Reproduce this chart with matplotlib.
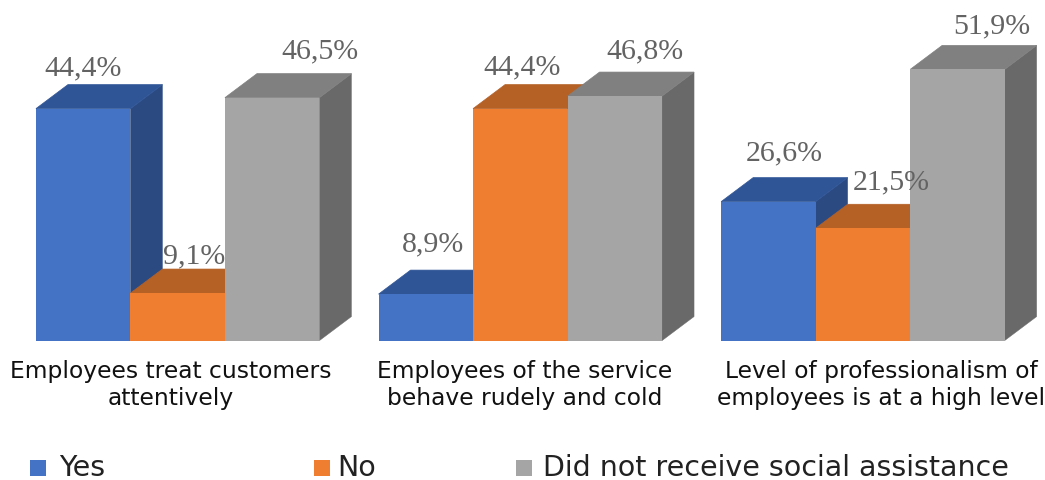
import matplotlib
matplotlib.use('Agg')
import matplotlib.pyplot as plt
from matplotlib.patches import Rectangle

categories = ['Employees treat customers\nattentively',
              'Employees of the service\nbehave rudely and cold',
              'Level of professionalism of\nemployees is at a high level']
series = ['Yes', 'No', 'Did not receive social assistance']
yes = [44.4, 8.9, 26.6]
no = [9.1, 44.4, 21.5]
other = [46.5, 46.8, 51.9]
labels_yes = ['44,4%', '8,9%', '26,6%']
labels_no = ['9,1%', '44,4%', '21,5%']
labels_other = ['46,5%', '46,8%', '51,9%']

front = ['#4472C4', '#EF7E31', '#A5A5A5']
top = ['#2F5597', '#B56024', '#808080']
side = ['#2B4A82', '#A4541E', '#696969']

# label offsets from the bar's top centre, in pixels
off_yes = [(0, 41), (7, 51), (16, 49)]
off_no = [(16, 38), (2, 42), (28, 47)]
off_other = [(48, 47), (30, 46), (34, 44)]

W, H = 1045, 481
base = 341.6
step = 342.6
ppv = 5.225
center0 = 177.7

fig = plt.figure(figsize=(W / 100, H / 100), dpi=100)
ax = fig.add_axes([0, 0, 1, 1])
ax.set_xlim(-center0 / step, (W - center0) / step)
ax.set_ylim(-(H - base) / ppv, base / ppv)
ax.axis('off')

bw = 94.5 / step
dx = 32 / step
dy = 24 / ppv


def px(x):
    return (x - center0) / step


def py(y):
    return (base - y) / ppv


rows = zip([yes, no, other], [labels_yes, labels_no, labels_other], [off_yes, off_no, off_other])
for s, (vals, labs, offs) in enumerate(rows):
    for i, v in enumerate(vals):
        x0 = i + (s - 1.5) * bw
        # side and top first, front last so the seam does not show
        ax.fill([x0 + bw, x0 + bw + dx, x0 + bw + dx, x0 + bw],
                [0, dy, v + dy, v], fc=side[s], ec=side[s], lw=0.3, zorder=2 + s)
        ax.fill([x0, x0 + bw, x0 + bw + dx, x0 + dx],
                [v, v, v + dy, v + dy], fc=top[s], ec=top[s], lw=0.5, zorder=2 + s)
        ax.bar(x0, v, bw, align='edge', color=front[s], lw=0, zorder=2 + s)
        ax.annotate(labs[i], (x0 + bw / 2, v), xytext=offs[i],
                    textcoords='offset pixels', ha='center', va='center',
                    family='Liberation Serif', fontsize=21.5, color='#636363', zorder=10)

cat_x = [171, 524.5, 881]
for i, c in enumerate(categories):
    ax.text(px(cat_x[i]), py(360), c, ha='center', va='top', family='DejaVu Sans',
            fontsize=16.8, color='#111111', linespacing=1.25)

leg_x = [30, 314, 516]
leg_tx = [59, 337, 543]
for s, name in enumerate(series):
    ax.add_patch(Rectangle((px(leg_x[s]), py(477)), 16 / step, 16 / ppv, color=front[s], lw=0))
    ax.text(px(leg_tx[s]), py(468), name, ha='left', va='center',
            family='DejaVu Sans', fontsize=20.5, color='#222222')

fig.savefig('out.png', dpi=100)
